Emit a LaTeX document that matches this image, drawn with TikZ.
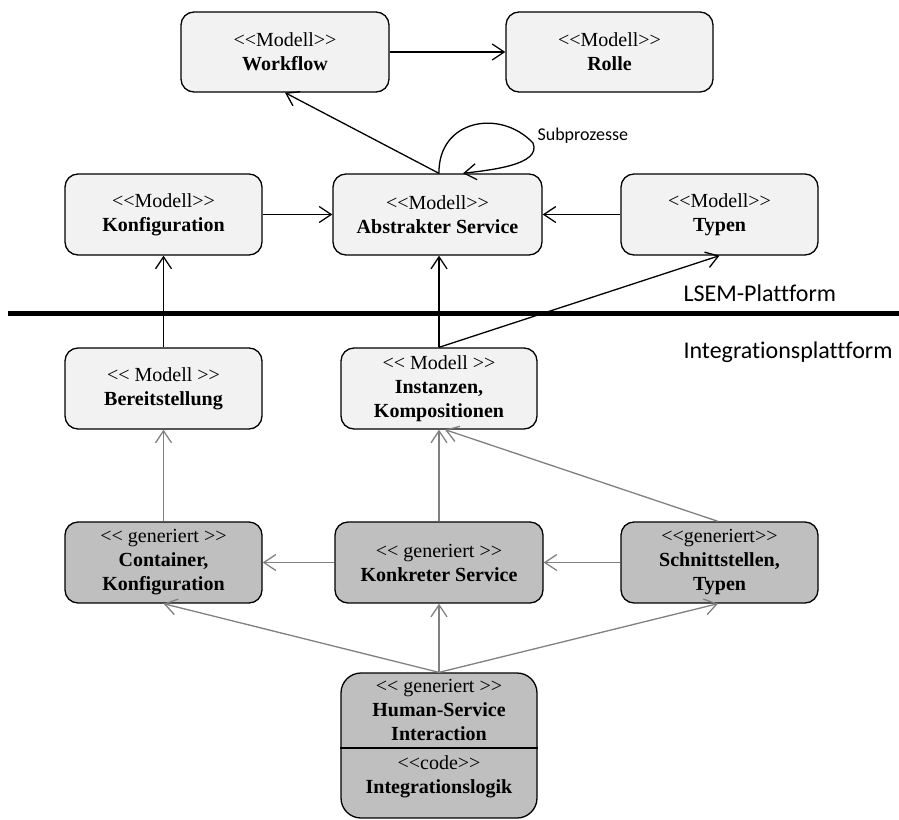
\documentclass[tikz,border=0pt]{standalone}
\usepackage{fontspec}
\setmainfont{Liberation Serif}
\newfontfamily\labelfont[Ligatures=NoCommon]{Carlito}
\usetikzlibrary{arrows.meta,positioning,calc}
\newcommand{\stL}{<\kern0pt<}
\newcommand{\stR}{>\kern0pt>}
\tikzset{
    box/.style={draw=black,line width=1.3pt,rounded corners=13pt,align=center,inner sep=0pt,minimum height=81pt},
    model box/.style={box,fill=black!5},
    gen box/.style={box,fill=black!25},
    part text/.style={align=center,inner sep=0pt},
    arr/.style={-{Straight Barb[length=12pt,width=16pt]},line width=1.3pt},
    garr/.style={arr,draw=gray},
    layer label/.style={font=\labelfont\fontsize{24}{28}\selectfont,anchor=west},
    loop label/.style={font=\labelfont\fontsize{18}{21}\selectfont,anchor=west},
}
\tikzstyle{every node}=[font=\fontsize{20}{24}\selectfont]

\begin{document}
\begin{tikzpicture}[x=1pt,y=-1pt]
    \useasboundingbox (0,0) rectangle (899,819);
    % LSEM models
    \node[model box,minimum width=208pt,minimum height=80pt] (workflow) at (285,52) {\stL{}Modell\stR\\\textbf{Workflow}};
    \node[model box,minimum width=207pt,minimum height=80pt] (rolle) at (609.5,52) {\stL{}Modell\stR\\\textbf{Rolle}};
    \node[model box,minimum width=197pt] (konfig) at (163.5,214.5) {\stL{}Modell\stR\\\textbf{Konfiguration}};
    \node[model box,minimum width=209pt] (abstrakt) at (437.5,214.5) {\stL{}Modell\stR\\\textbf{Abstrakter Service}};
    \node[model box,minimum width=197pt] (typen) at (719.5,214.5) {\stL{}Modell\stR\\\textbf{Typen}};
    % integration models
    \node[model box,minimum width=197pt] (bereit) at (163.5,388.5) {\stL\ Modell \stR\\\textbf{Bereitstellung}};
    \node[model box,minimum width=196pt] (instanz) at (439,388.5) {\stL\ Modell \stR\\\textbf{Instanzen,}\\\textbf{Kompositionen}};
    % generated
    \node[gen box,minimum width=197pt] (container) at (163.5,562.5) {\stL\ generiert \stR\\\textbf{Container,}\\\textbf{Konfiguration}};
    \node[gen box,minimum width=208pt] (konkret) at (439,562.5) {\stL\ generiert \stR\\\textbf{Konkreter Service}};
    \node[gen box,minimum width=197pt] (schnitt) at (719.5,562.5) {\stL{}generiert\stR\\\textbf{Schnittstellen,}\\\textbf{Typen}};
    \node[gen box,rounded corners=20pt,minimum width=196pt,minimum height=145pt] (human) at (439,745.5) {};
    \coordinate (split) at (0,748);
    \draw[line width=1.3pt] (human.west |- split) -- (human.east |- split);
    \node[part text] (humantop) at (439,710) {\stL\ generiert \stR\\\textbf{Human-Service}\\\textbf{Interaction}};
    \node[part text] (humanbot) at (439,777) {\stL{}code\stR\\\textbf{Integrationslogik}};

    % platform border
    \coordinate (sepL) at (8,313);
    \coordinate (sepR) at (899,313);
    \draw[line width=5pt] (sepL) -- (sepR);
    \node[layer label] (lsem) at (680,293) {LSEM-Plattform};
    \node[layer label] (integ) at (680,352) {Integrationsplattform};

    \draw[arr] (workflow.east) -- (rolle.west);
    \draw[arr] ([xshift=1.5pt]abstrakt.north) -- (workflow.south);
    \draw[arr] ([xshift=1.5pt]abstrakt.north) .. controls (438,120) and (500,108) .. (533,143)
        .. controls (542,165) and (490,170) .. ([xshift=25.5pt]abstrakt.north);
    \node[loop label] (subl) at (534,136) {Subprozesse};
    \draw[arr] (konfig.east) -- (abstrakt.west);
    \draw[arr] (typen.west) -- (abstrakt.east);
    \draw[arr] (bereit.north) -- (konfig.south);
    \draw[arr] (instanz.north) -- (instanz.north |- abstrakt.south);
    \draw[arr] (instanz.north) -- (typen.south);

    \draw[garr] (container.north) -- (bereit.south);
    \draw[garr] (konkret.north) -- (instanz.south);
    \draw[garr] ([xshift=-1.5pt]schnitt.north) -- ([xshift=6pt]instanz.south);
    \draw[garr] (konkret.west) -- (container.east);
    \draw[garr] (schnitt.west) -- (konkret.east);
    \draw[garr] (human.north) -- (container.south);
    \draw[garr] (human.north) -- (konkret.south);
    \draw[garr] (human.north) -- ([xshift=-1.5pt]schnitt.south);
\end{tikzpicture}
\end{document}
